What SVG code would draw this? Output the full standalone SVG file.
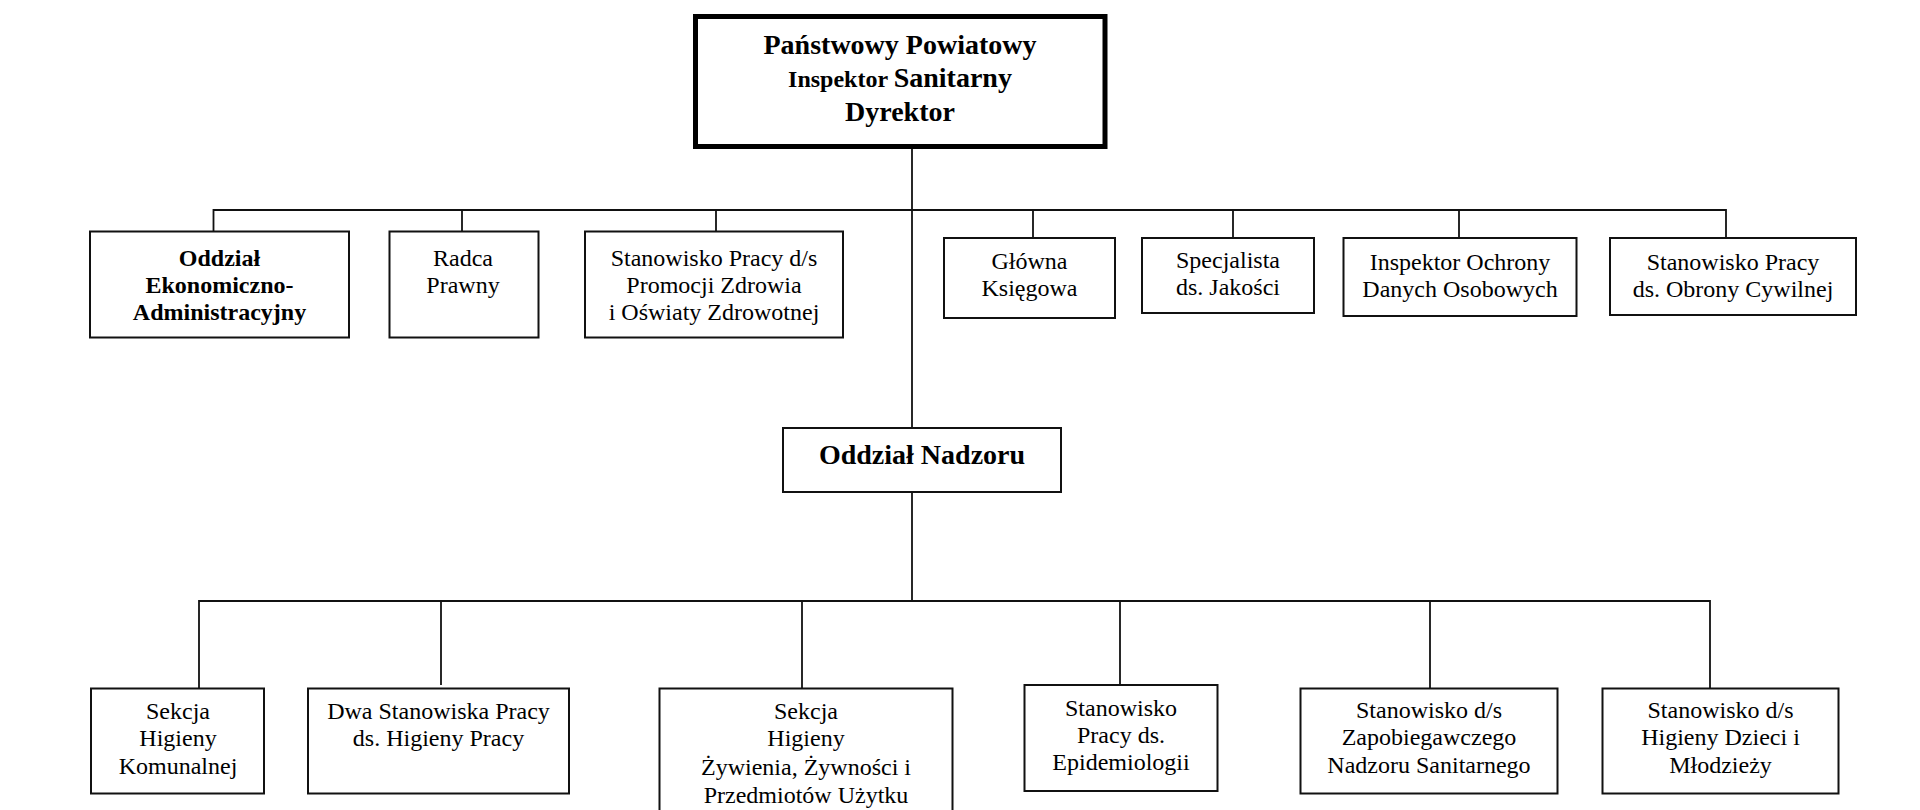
<svg xmlns="http://www.w3.org/2000/svg" width="1920" height="810" viewBox="0 0 1920 810">
<style>
.box{fill:#fff;stroke:#111;stroke-width:2}
.main{fill:#fff;stroke:#000;stroke-width:5}
.ln{fill:none;stroke:#111;stroke-width:1.8}
text{font-family:"Liberation Serif","Times New Roman",serif;font-size:24px;fill:#000;text-anchor:middle}
.b{font-weight:bold}
.big{font-size:28px;font-weight:bold}
</style>
<rect width="1920" height="810" fill="#fff"/>
<g id="connectors">
<line class="ln" x1="912" y1="149" x2="912" y2="428"/>
<line class="ln" x1="912" y1="492" x2="912" y2="601"/>
<polyline class="ln" points="213.5,231 213.5,210 1726,210 1726,238"/>
<line class="ln" x1="462" y1="210" x2="462" y2="231"/>
<line class="ln" x1="716" y1="210" x2="716" y2="231"/>
<line class="ln" x1="1033" y1="210" x2="1033" y2="238"/>
<line class="ln" x1="1233" y1="210" x2="1233" y2="238"/>
<line class="ln" x1="1459" y1="210" x2="1459" y2="238"/>
<polyline class="ln" points="199,688 199,601 1710,601 1710,688"/>
<line class="ln" x1="441" y1="601" x2="441" y2="685"/>
<line class="ln" x1="802" y1="601" x2="802" y2="688"/>
<line class="ln" x1="1120" y1="601" x2="1120" y2="685"/>
<line class="ln" x1="1430" y1="601" x2="1430" y2="688"/>
</g>
<g id="dyrektor">
<rect class="main" x="695.5" y="16.5" width="409.5" height="130"/>
<text class="big" x="900" y="54">Państwowy Powiatowy</text>
<text class="big" x="900" y="87"><tspan font-size="24">Inspektor </tspan>Sanitarny</text>
<text class="big" x="900" y="121">Dyrektor</text>
</g>
<g id="oddzial-ekon">
<rect class="box" x="90" y="231.5" width="259" height="106"/>
<text class="b" x="219.5" y="266">Oddział</text>
<text class="b" x="219.5" y="293">Ekonomiczno-</text>
<text class="b" x="219.5" y="320">Administracyjny</text>
</g>
<g id="radca">
<rect class="box" x="389.5" y="231.5" width="149" height="106"/>
<text x="463" y="266">Radca</text>
<text x="463" y="293">Prawny</text>
</g>
<g id="promocja">
<rect class="box" x="585" y="231.5" width="258" height="106"/>
<text x="714" y="266">Stanowisko Pracy d/s</text>
<text x="714" y="293">Promocji Zdrowia</text>
<text x="714" y="320">i Oświaty Zdrowotnej</text>
</g>
<g id="ksiegowa">
<rect class="box" x="944" y="238" width="171" height="80"/>
<text x="1029.5" y="269">Główna</text>
<text x="1029.5" y="296">Księgowa</text>
</g>
<g id="jakosc">
<rect class="box" x="1142" y="238" width="172" height="75"/>
<text x="1228" y="268">Specjalista</text>
<text x="1228" y="295">ds. Jakości</text>
</g>
<g id="iodo">
<rect class="box" x="1343.5" y="238" width="233" height="78"/>
<text x="1460" y="270">Inspektor Ochrony</text>
<text x="1460" y="297">Danych Osobowych</text>
</g>
<g id="obrona">
<rect class="box" x="1610" y="238" width="246" height="77"/>
<text x="1733" y="270">Stanowisko Pracy</text>
<text x="1733" y="297">ds. Obrony Cywilnej</text>
</g>
<g id="nadzor">
<rect class="box" x="783" y="428" width="278" height="64"/>
<text class="big" x="922" y="464">Oddział Nadzoru</text>
</g>
<g id="komunalna">
<rect class="box" x="91" y="688.5" width="173" height="105"/>
<text x="178" y="719">Sekcja</text>
<text x="178" y="746">Higieny</text>
<text x="178" y="774">Komunalnej</text>
</g>
<g id="higiena-pracy">
<rect class="box" x="308" y="688.5" width="261" height="105"/>
<text x="438.5" y="719">Dwa Stanowiska Pracy</text>
<text x="438.5" y="746">ds. Higieny Pracy</text>
</g>
<g id="zywnosc">
<rect class="box" x="659.5" y="688.5" width="293" height="140"/>
<text x="806" y="719">Sekcja</text>
<text x="806" y="746">Higieny</text>
<text x="806" y="775">Żywienia, Żywności i</text>
<text x="806" y="803">Przedmiotów Użytku</text>
</g>
<g id="epidemiologia">
<rect class="box" x="1024.5" y="685" width="193" height="106"/>
<text x="1121" y="716">Stanowisko</text>
<text x="1121" y="743">Pracy ds.</text>
<text x="1121" y="770">Epidemiologii</text>
</g>
<g id="zapobiegawczy">
<rect class="box" x="1300.5" y="688.5" width="257" height="105"/>
<text x="1429" y="718">Stanowisko d/s</text>
<text x="1429" y="745">Zapobiegawczego</text>
<text x="1429" y="773">Nadzoru Sanitarnego</text>
</g>
<g id="dzieci">
<rect class="box" x="1602.5" y="688.5" width="236" height="105"/>
<text x="1720.5" y="718">Stanowisko d/s</text>
<text x="1720.5" y="745">Higieny Dzieci i</text>
<text x="1720.5" y="773">Młodzieży</text>
</g>
</svg>
